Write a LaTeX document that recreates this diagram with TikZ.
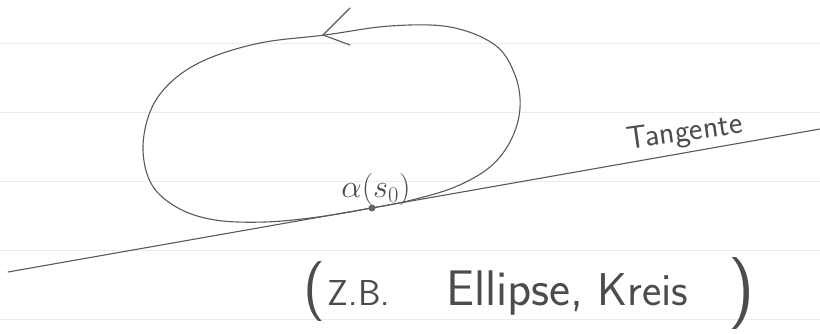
\documentclass[tikz,border=0pt]{standalone}
\usepackage{tikz}
\usetikzlibrary{positioning}

\begin{document}
\begin{tikzpicture}[
  x=1pt, y=-1pt,
  pencil/.style = {draw=black!65, line width=1.1pt, line cap=round},
  rule/.style   = {draw=black!8, line width=0.6pt},
  hand/.style   = {font=\sffamily, text=black!70, inner sep=0pt}
]
\useasboundingbox (0,0) rectangle (820,334);

% Paper lines
\foreach \y in {43,112,181,250,319}
  \draw[rule] (0,\y) -- (820,\y);

% Curve
\draw[pencil] plot[smooth cycle, tension=0.6] coordinates {
  (325,35) (390,26) (450,27) (495,45) (515,75) (520,108) (511,140)
  (490,167) (455,187) (412,200) (372,208) (318,217) (265,222)
  (215,220) (178,208) (152,185) (143,150) (150,112) (170,83)
  (205,60) (260,43)};

% Arrowhead
\coordinate (tip) at (323,35);
\coordinate (barbA) at (350,8);
\coordinate (barbB) at (350,45);
\draw[pencil] (barbA) -- (tip) -- (barbB);

% Tangent
\coordinate (tl) at (8,272);
\coordinate (tr) at (820,129);
\draw[pencil] (tl) -- (tr);
\node[circle, fill=black!60, inner sep=0pt, minimum size=7pt] (p0) at (372,208) {};

% Labels
\node[hand, font=\fontsize{24}{28}\selectfont, anchor=base] (alpha) at (376,198)
  {\scalebox{1.3}{$\alpha(s_0)$}};
\node[hand, font=\sffamily\fontsize{32}{36}\selectfont, rotate=8, anchor=base] (tang) at (686,141) {Tangente};

\node[hand, font=\sffamily\fontsize{60}{66}\selectfont, anchor=base] (lpar) at (314,306) {(};
\node[hand, font=\sffamily\fontsize{36}{40}\selectfont, anchor=base] (zb) at (359,305) {Z.B.};
\node[hand, font=\sffamily\fontsize{50}{56}\selectfont, anchor=base] (ell) at (515,305) {Ellipse,};
\node[hand, font=\sffamily\fontsize{46}{50}\selectfont, anchor=base] (kreis) at (643,305) {Kreis};
\node[hand, font=\sffamily\fontsize{72}{78}\selectfont, anchor=base] (rpar) at (742,311) {)};
\end{tikzpicture}
\end{document}
